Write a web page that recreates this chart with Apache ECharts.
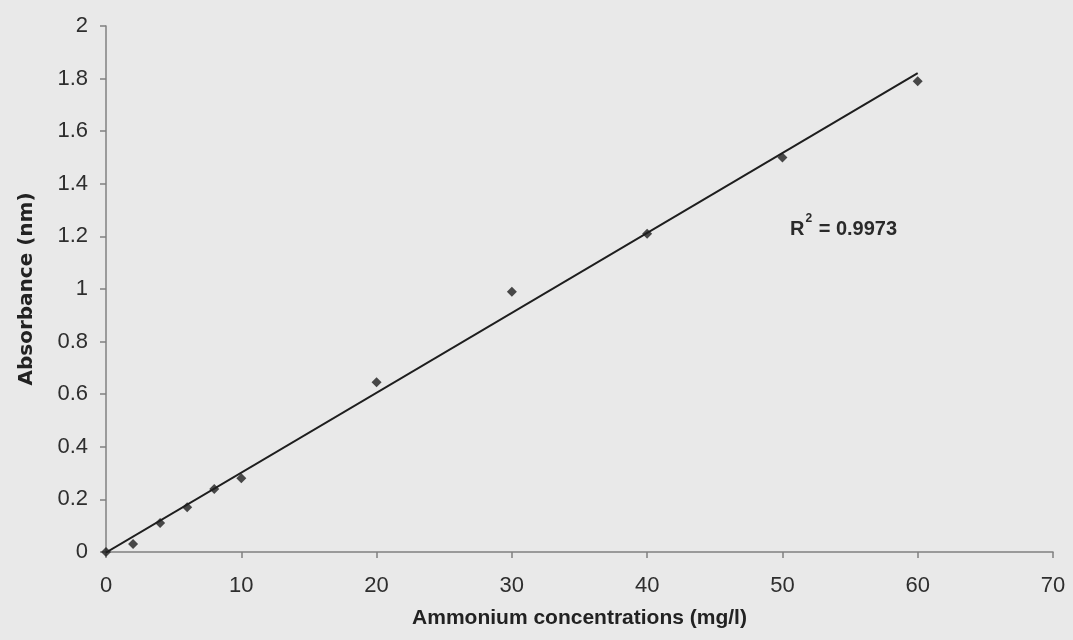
<!DOCTYPE html>
<html>
<head>
<meta charset="utf-8">
<script src="https://cdn.jsdelivr.net/npm/echarts@6/dist/echarts.min.js"></script>
<style>
  html, body { margin: 0; padding: 0; background: #e9e9e9; }
  #chart { width: 1073px; height: 640px; }
</style>
</head>
<body>
<div id="chart"></div>
<script>
// Calibration data: ammonium standard concentrations vs measured absorbance
const concentrations = [0, 2, 4, 6, 8, 10, 20, 30, 40, 50, 60];
const absorbance = [0, 0.03, 0.11, 0.17, 0.24, 0.28, 0.645, 0.99, 1.21, 1.50, 1.79];
const xTicks = [0, 10, 20, 30, 40, 50, 60, 70];
const yTicks = [0, 0.2, 0.4, 0.6, 0.8, 1, 1.2, 1.4, 1.6, 1.8, 2];
const rSquaredText = '0.9973';

// Least-squares linear trendline through the standards
function linearFit(xs, ys) {
  const n = xs.length;
  const mx = xs.reduce((a, b) => a + b, 0) / n;
  const my = ys.reduce((a, b) => a + b, 0) / n;
  let sxy = 0, sxx = 0;
  for (let i = 0; i < n; i++) {
    sxy += (xs[i] - mx) * (ys[i] - my);
    sxx += (xs[i] - mx) * (xs[i] - mx);
  }
  const slope = sxy / sxx;
  return { slope, intercept: my - slope * mx };
}
const fit = linearFit(concentrations, absorbance);
const xFirst = concentrations[0];
const xLast = concentrations[concentrations.length - 1];
const trend = [
  [xFirst, fit.intercept + fit.slope * xFirst],
  [xLast, fit.intercept + fit.slope * xLast]
];

const font = 'Liberation Sans, Arial, sans-serif';
const chart = echarts.init(document.getElementById('chart'));
chart.setOption({
  backgroundColor: '#e9e9e9',
  animation: false,
  grid: { left: 106, right: 20, top: 26, bottom: 88 },
  xAxis: {
    type: 'value',
    min: xTicks[0],
    max: xTicks[xTicks.length - 1],
    interval: xTicks[1] - xTicks[0],
    name: 'Ammonium concentrations (mg/l)',
    nameLocation: 'middle',
    nameGap: 56,
    nameTextStyle: { fontFamily: font, fontSize: 21, fontWeight: 'bold', color: '#222' },
    axisLine: { show: true, lineStyle: { color: '#808080', width: 1.5 } },
    axisTick: { show: true, length: 6, lineStyle: { color: '#808080', width: 1.5 } },
    axisLabel: { fontFamily: font, fontSize: 22, color: '#2e2e2e', margin: 23 },
    splitLine: { show: false }
  },
  yAxis: {
    type: 'value',
    min: yTicks[0],
    max: yTicks[yTicks.length - 1],
    interval: 0.2,
    name: 'Absorbance (nm)',
    nameLocation: 'middle',
    nameGap: 69,
    nameTextStyle: { fontFamily: 'DejaVu Sans, sans-serif', fontSize: 20, fontWeight: 'bold', color: '#222' },
    axisLine: { show: true, lineStyle: { color: '#808080', width: 1.5 } },
    axisTick: { show: true, length: 6, lineStyle: { color: '#808080', width: 1.5 } },
    axisLabel: { fontFamily: font, fontSize: 22, color: '#2e2e2e', margin: 18 },
    splitLine: { show: false }
  },
  series: [
    {
      type: 'line',
      data: trend,
      symbol: 'none',
      lineStyle: { color: '#1e1e1e', width: 2 },
      z: 2
    },
    {
      type: 'scatter',
      data: concentrations.map((c, i) => [c, absorbance[i]]),
      symbol: 'diamond',
      symbolSize: 10,
      itemStyle: { color: '#1e1e1e' },
      z: 3
    }
  ],
  graphic: [
    {
      type: 'text',
      left: 790,
      top: 213,
      style: {
        text: '{b|R}{s|2}{b| = ' + rSquaredText + '}',
        rich: {
          b: { fontFamily: font, fontSize: 20, fontWeight: 'bold', fill: '#2a2a2a', verticalAlign: 'bottom', lineHeight: 26 },
          s: { fontFamily: font, fontSize: 12, fontWeight: 'bold', fill: '#2a2a2a', verticalAlign: 'top', lineHeight: 26, padding: [0, 1, 12, 1] }
        }
      }
    }
  ]
});
</script>
</body>
</html>
